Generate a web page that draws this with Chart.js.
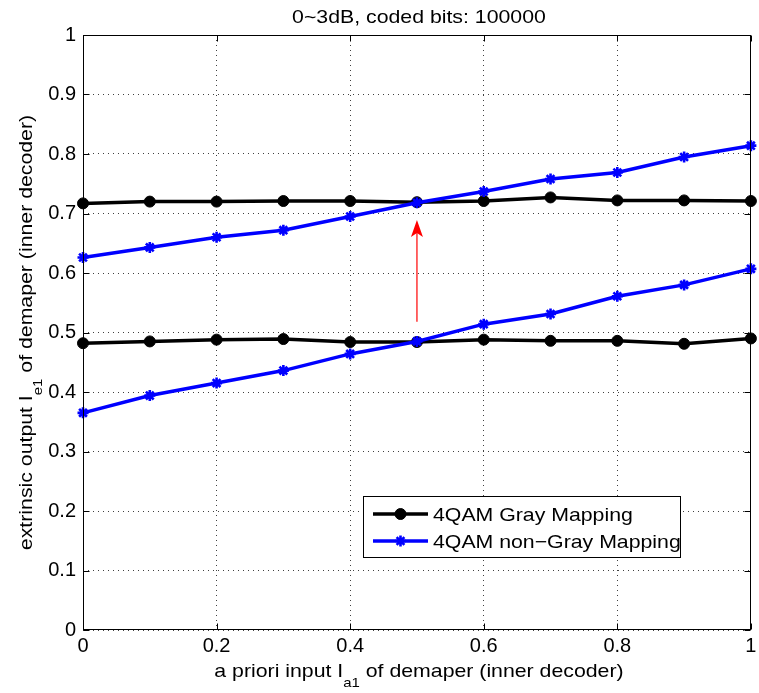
<!DOCTYPE html>
<html>
<head>
<meta charset="utf-8">
<script src="https://cdn.jsdelivr.net/npm/chart.js@4.4.1/dist/chart.umd.min.js"></script>
<style>
  html, body { margin: 0; padding: 0; background: #fff; }
  #wrap { width: 759px; height: 693px; }
</style>
</head>
<body>
<div id="wrap"><canvas id="c" width="759" height="693"></canvas></div>
<script>
// a priori mutual information fed to the demapper
const aPriori = [0, 0.1, 0.2, 0.3, 0.4, 0.5, 0.6, 0.7, 0.8, 0.9, 1];

// extrinsic output of the demapper, two SNR levels per mapping
const grayHigh    = [0.717, 0.720, 0.720, 0.721, 0.721, 0.719, 0.721, 0.727, 0.722, 0.722, 0.721];
const grayLow     = [0.482, 0.485, 0.488, 0.489, 0.484, 0.484, 0.488, 0.486, 0.486, 0.481, 0.490];
const nonGrayHigh = [0.626, 0.643, 0.660, 0.672, 0.695, 0.718, 0.737, 0.758, 0.769, 0.795, 0.814];
const nonGrayLow  = [0.365, 0.394, 0.415, 0.436, 0.464, 0.485, 0.514, 0.531, 0.561, 0.580, 0.607];

const xTickValues = [0, 0.2, 0.4, 0.6, 0.8, 1];
const yTickValues = [0, 0.1, 0.2, 0.3, 0.4, 0.5, 0.6, 0.7, 0.8, 0.9, 1];

const seriesNames = ['4QAM Gray Mapping', '4QAM non\u2212Gray Mapping'];
const titleText = '0~3dB, coded bits: 100000';
const xTitleParts = ['a priori input I', 'a1', ' of demaper (inner decoder)'];
const yTitleParts = ['extrinsic output I', 'e1', ' of demaper (inner decoder)'];

// red arrow marking the shift of the crossing point
const arrowX = 0.5;
const arrowFrom = 0.518;
const arrowTo = 0.689;

const FONT = '"Liberation Sans", Arial, Helvetica, sans-serif';
const SX = 1.15; // horizontal widening of the text face

const toPoints = ys => aPriori.map((x, i) => ({ x: x, y: ys[i] }));

const grayStyle = {
  borderColor: '#000000', backgroundColor: '#000000', borderWidth: 3.5,
  pointStyle: 'circle', pointRadius: 5.5, pointBorderWidth: 1,
  pointBackgroundColor: '#000000', pointBorderColor: '#000000',
  tension: 0, clip: false, order: 2
};
const nonGrayStyle = {
  borderColor: '#0000ff', backgroundColor: '#0000ff', borderWidth: 3.5,
  pointStyle: 'star', pointRadius: 5.5, pointBorderWidth: 2.6,
  pointBackgroundColor: '#0000ff', pointBorderColor: '#0000ff',
  tension: 0, clip: false, order: 1
};

function wideText(ctx, str, x, y, align) {
  ctx.save();
  ctx.translate(x, y);
  ctx.scale(SX, 1);
  ctx.textAlign = align || 'left';
  ctx.fillText(str, 0, 0);
  ctx.restore();
}

// label with subscript, centred on (0,0) in the current frame
function subscriptLabel(ctx, parts, size, subSize, subDrop) {
  ctx.font = size + 'px ' + FONT;
  const w1 = ctx.measureText(parts[0]).width;
  const w3 = ctx.measureText(parts[2]).width;
  ctx.font = subSize + 'px ' + FONT;
  const w2 = ctx.measureText(parts[1]).width;
  const total = (w1 + w2 + w3) * SX;
  let x = -total / 2;
  ctx.font = size + 'px ' + FONT;
  wideText(ctx, parts[0], x, 0); x += w1 * SX;
  ctx.font = subSize + 'px ' + FONT;
  wideText(ctx, parts[1], x, subDrop); x += w2 * SX;
  ctx.font = size + 'px ' + FONT;
  wideText(ctx, parts[2], x, 0);
}

const decorations = {
  id: 'decorations',
  afterDatasetsDraw(chart) {
    const ctx = chart.ctx;
    const a = chart.chartArea;
    const xs = chart.scales.x, ys = chart.scales.y;
    ctx.save();

    // axes box
    ctx.strokeStyle = '#000';
    ctx.lineWidth = 1;
    const L = Math.round(a.left) + 0.5, R = Math.round(a.right) - 0.5;
    const T = Math.round(a.top) + 0.5, B = Math.round(a.bottom) - 0.5;
    ctx.strokeRect(L, T, R - L, B - T);

    // inward tick marks on all four sides
    const tl = 6;
    ctx.beginPath();
    xs.ticks.forEach(t => {
      const px = Math.round(xs.getPixelForValue(t.value)) + 0.5;
      ctx.moveTo(px, B); ctx.lineTo(px, B - tl);
      ctx.moveTo(px, T); ctx.lineTo(px, T + tl);
    });
    ys.ticks.forEach(t => {
      const py = Math.round(ys.getPixelForValue(t.value)) + 0.5;
      ctx.moveTo(L, py); ctx.lineTo(L + tl, py);
      ctx.moveTo(R, py); ctx.lineTo(R - tl, py);
    });
    ctx.stroke();

    // arrow
    const ax = xs.getPixelForValue(arrowX);
    const ay0 = ys.getPixelForValue(arrowFrom);
    const ay1 = ys.getPixelForValue(arrowTo);
    ctx.strokeStyle = '#ff0000';
    ctx.fillStyle = '#ff0000';
    ctx.lineWidth = 1.2;
    ctx.beginPath();
    ctx.moveTo(ax, ay0); ctx.lineTo(ax, ay1 + 12);
    ctx.stroke();
    ctx.beginPath();
    ctx.moveTo(ax, ay1);
    ctx.lineTo(ax - 6, ay1 + 17);
    ctx.lineTo(ax, ay1 + 13);
    ctx.lineTo(ax + 6, ay1 + 17);
    ctx.closePath();
    ctx.fill();

    // legend
    const lx = 363, ly = 496, lw = 317, lh = 61;
    ctx.fillStyle = '#fff';
    ctx.fillRect(lx, ly, lw, lh);
    ctx.strokeStyle = '#000';
    ctx.lineWidth = 1;
    ctx.strokeRect(lx + 0.5, ly + 0.5, lw, lh);
    const rows = [514, 541];
    [chart.data.datasets[0], chart.data.datasets[2]].forEach((ds, i) => {
      const y = rows[i];
      ctx.strokeStyle = ds.borderColor;
      ctx.lineWidth = ds.borderWidth;
      ctx.beginPath();
      ctx.moveTo(373, y); ctx.lineTo(428, y);
      ctx.stroke();
      ctx.fillStyle = ds.pointBackgroundColor;
      ctx.strokeStyle = ds.pointBorderColor;
      ctx.lineWidth = ds.pointBorderWidth;
      Chart.helpers.drawPoint(ctx, {
        pointStyle: ds.pointStyle, radius: ds.pointRadius,
        borderWidth: ds.pointBorderWidth, rotation: 0
      }, 400.5, y);
      ctx.fillStyle = '#000';
      ctx.font = '18.5px ' + FONT;
      ctx.textBaseline = 'alphabetic';
      wideText(ctx, ds.label, 433, y + 7, 'left');
    });

    // title
    ctx.fillStyle = '#000';
    ctx.font = '18.5px ' + FONT;
    wideText(ctx, titleText, (a.left + a.right) / 2 + 2, 23, 'center');

    // x axis title
    ctx.save();
    ctx.translate((a.left + a.right) / 2 + 2, 677);
    subscriptLabel(ctx, xTitleParts, 18.5, 13, 10);
    ctx.restore();

    // y axis title
    ctx.save();
    ctx.translate(31.5, (a.top + a.bottom) / 2);
    ctx.rotate(-Math.PI / 2);
    subscriptLabel(ctx, yTitleParts, 18.5, 13, 10);
    ctx.restore();

    ctx.restore();
  }
};

new Chart(document.getElementById('c'), {
  type: 'line',
  data: {
    datasets: [
      Object.assign({ label: seriesNames[0], data: toPoints(grayHigh) }, grayStyle),
      Object.assign({ label: seriesNames[0], data: toPoints(grayLow) }, grayStyle),
      Object.assign({ label: seriesNames[1], data: toPoints(nonGrayHigh) }, nonGrayStyle),
      Object.assign({ label: seriesNames[1], data: toPoints(nonGrayLow) }, nonGrayStyle)
    ]
  },
  options: {
    responsive: false,
    animation: false,
    events: [],
    layout: { padding: { top: 35, right: 5, left: 0, bottom: 0 } },
    plugins: { legend: { display: false }, tooltip: { enabled: false }, title: { display: false } },
    scales: {
      x: {
        type: 'linear', min: 0, max: 1,
        afterBuildTicks: s => { s.ticks = xTickValues.map(v => ({ value: v })); },
        afterFit: s => { s.height = 63; s.paddingLeft = 0; s.paddingRight = 0; },
        ticks: {
          color: '#000', padding: 4, maxRotation: 0,
          font: { family: FONT, size: 20 },
          callback: v => String(+v.toFixed(1))
        },
        grid: { color: 'rgba(0,0,0,0.75)', lineWidth: 1, drawTicks: false },
        border: { display: false, dash: [1, 4] }
      },
      y: {
        type: 'linear', min: 0, max: 1,
        afterBuildTicks: s => { s.ticks = yTickValues.map(v => ({ value: v })); },
        afterFit: s => { s.width = 83; s.paddingTop = 0; s.paddingBottom = 0; },
        ticks: {
          color: '#000', padding: 7,
          font: { family: FONT, size: 20 },
          callback: v => String(+v.toFixed(1))
        },
        grid: { color: 'rgba(0,0,0,0.75)', lineWidth: 1, drawTicks: false },
        border: { display: false, dash: [1, 4] }
      }
    }
  },
  plugins: [decorations]
});
</script>
</body>
</html>
